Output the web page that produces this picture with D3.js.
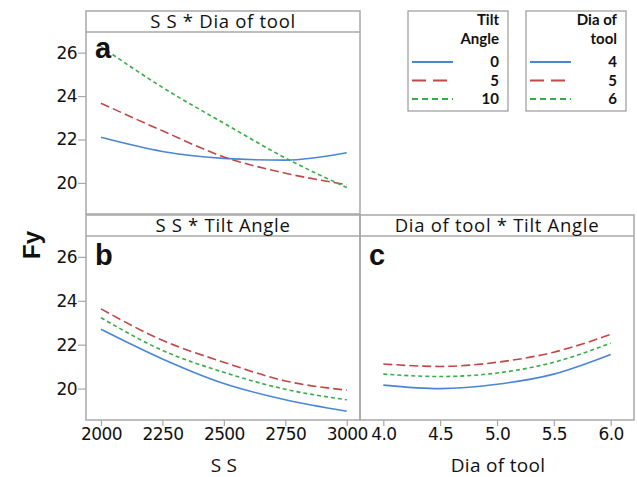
<!DOCTYPE html>
<html>
<head>
<meta charset="utf-8">
<script src="https://cdn.jsdelivr.net/npm/d3@7"></script>
<style>
  body { margin: 0; background: #fff; }
  text { font-family: "Liberation Sans", Arial, sans-serif; fill: #111; }
  .tick text { font-family: "DejaVu Sans", sans-serif; font-size: 17px; letter-spacing: -0.6px; fill: #111; }
  .tick line { stroke: #a8a8a8; stroke-width: 1.2; }
  .strip { font-family: "Open Sans", sans-serif; font-size: 18.5px; letter-spacing: 0.7px; }
  .legend text { font-family: "Lato", sans-serif; font-weight: bold; font-size: 15px; }
</style>
</head>
<body>
<script>
// levels on the x axes
var ssLevels = [2000, 2250, 2500, 2750, 3000];
var diaLevels = [4.0, 4.5, 5.0, 5.5, 6.0];
var yTicks = [20, 22, 24, 26];

// a: S S * Dia of tool (lines by dia)
var fyA_dia4 = [22.1, 21.45, 21.13, 21.05, 21.39];
var fyA_dia5 = [23.67, 22.4, 21.2, 20.45, 19.92];
var fyA_dia6 = [26.28, 24.4, 22.75, 21.15, 19.79];

// b: S S * Tilt Angle (lines by tilt)
var fyB_tilt0 = [22.7, 21.35, 20.23, 19.49, 18.97];
var fyB_tilt5 = [23.63, 22.2, 21.2, 20.35, 19.93];
var fyB_tilt10 = [23.23, 21.74, 20.74, 19.97, 19.49];

// c: Dia of tool * Tilt Angle (lines by tilt)
var fyC_tilt0 = [20.16, 20.0, 20.2, 20.66, 21.55];
var fyC_tilt5 = [21.12, 21.01, 21.2, 21.66, 22.47];
var fyC_tilt10 = [20.66, 20.55, 20.71, 21.2, 22.07];

var colors = ["#4a86d6", "#c24848", "#3aac46"];
var dashes = [null, "9,4", "4,3"];

var svg = d3.select("body").append("svg")
  .attr("width", 637)
  .attr("height", 477);

var yDomain = [18.57, 26.95];

var panels = [
  {key: "a", title: "S S * Dia of tool", x0: 86, x1: 360, top: 11, head: 21, bottom: 214,
   xDomain: [1939, 3054], xs: ssLevels, series: [fyA_dia4, fyA_dia5, fyA_dia6], yAxis: true, xAxis: false},
  {key: "b", title: "S S * Tilt Angle", x0: 86, x1: 360, top: 215, head: 21, bottom: 420,
   xDomain: [1939, 3054], xs: ssLevels, series: [fyB_tilt0, fyB_tilt5, fyB_tilt10], yAxis: true, xAxis: true,
   xTicks: ssLevels, xFmt: d3.format("d"), xLabel: "S S"},
  {key: "c", title: "Dia of tool * Tilt Angle", x0: 360, x1: 634, top: 215, head: 21, bottom: 420,
   xDomain: [3.795, 6.205], xs: diaLevels, series: [fyC_tilt0, fyC_tilt5, fyC_tilt10], yAxis: false, xAxis: true,
   xTicks: diaLevels, xFmt: d3.format(".1f"), xLabel: "Dia of tool"}
];

panels.forEach(function(p) {
  var plotTop = p.top + p.head;
  var x = d3.scaleLinear().domain(p.xDomain).range([p.x0, p.x1]);
  var y = d3.scaleLinear().domain(yDomain).range([p.bottom, plotTop]);

  if (p.yAxis) {
    var ya = svg.append("g").attr("transform", "translate(" + p.x0 + ",0)")
      .call(d3.axisLeft(y).tickValues(yTicks).tickSize(8).tickPadding(1));
    ya.select(".domain").remove();
  }
  if (p.xAxis) {
    var xa = svg.append("g").attr("transform", "translate(0," + p.bottom + ")")
      .call(d3.axisBottom(x).tickValues(p.xTicks).tickFormat(p.xFmt).tickSize(6).tickPadding(2));
    xa.select(".domain").remove();
    svg.append("text")
      .attr("x", (p.x0 + p.x1) / 2 + 1).attr("y", 472)
      .attr("text-anchor", "middle")
      .attr("class", "strip").style("font-size", "19px").style("letter-spacing", "0.3px")
      .text(p.xLabel);
  }

  // the fitted lines
  var line = d3.line().curve(d3.curveMonotoneX)
    .x(function(d, i) { return x(p.xs[i]); })
    .y(function(d) { return y(d); });
  p.series.forEach(function(s, i) {
    svg.append("path").datum(s)
      .attr("d", line)
      .attr("fill", "none")
      .attr("stroke", colors[i])
      .attr("stroke-width", 1.6)
      .attr("stroke-dasharray", dashes[i]);
  });

  // frame and strip
  svg.append("rect")
    .attr("x", p.x0).attr("y", p.top)
    .attr("width", p.x1 - p.x0).attr("height", p.bottom - p.top)
    .attr("fill", "none").attr("stroke", "#a8a8a8").attr("stroke-width", 1.5);
  svg.append("line")
    .attr("x1", p.x0).attr("x2", p.x1).attr("y1", plotTop).attr("y2", plotTop)
    .attr("stroke", "#a8a8a8").attr("stroke-width", 1.5);
  svg.append("text")
    .attr("class", "strip")
    .attr("x", (p.x0 + p.x1) / 2).attr("y", p.top + 17)
    .attr("text-anchor", "middle")
    .text(p.title);

  svg.append("text")
    .attr("x", p.x0 + 9).attr("y", plotTop + (p.key == "a" ? 26 : 29))
    .style("font-weight", "bold").style("font-size", "29px")
    .text(p.key);
});

// Fy
svg.append("text")
  .attr("transform", "translate(40,245) rotate(-90)")
  .attr("text-anchor", "middle")
  .style("font-weight", "bold").style("font-size", "24px")
  .text("Fy");

// legends
var legends = [
  {x: 408, title: ["Tilt", "Angle"], labels: ["0", "5", "10"]},
  {x: 526, title: ["Dia of", "tool"], labels: ["4", "5", "6"]}
];
var legendDash = [null, "14,7", "6,4"];

legends.forEach(function(l) {
  var g = svg.append("g").attr("class", "legend");
  g.append("rect").attr("x", l.x).attr("y", 11).attr("width", 100).attr("height", 100)
    .attr("fill", "none").attr("stroke", "#9a9a9a").attr("stroke-width", 1.2);
  l.title.forEach(function(t, i) {
    g.append("text").attr("x", l.x + 91).attr("y", 25 + i * 19)
      .attr("text-anchor", "end").text(t);
  });
  l.labels.forEach(function(t, i) {
    var yy = 62 + i * 18.5;
    g.append("line").attr("x1", l.x + 4).attr("x2", l.x + 45).attr("y1", yy).attr("y2", yy)
      .attr("stroke", colors[i]).attr("stroke-width", 1.8)
      .attr("stroke-dasharray", legendDash[i]);
    g.append("text").attr("x", l.x + 91).attr("y", yy + 5)
      .attr("text-anchor", "end").text(t);
  });
});
</script>
</body>
</html>
